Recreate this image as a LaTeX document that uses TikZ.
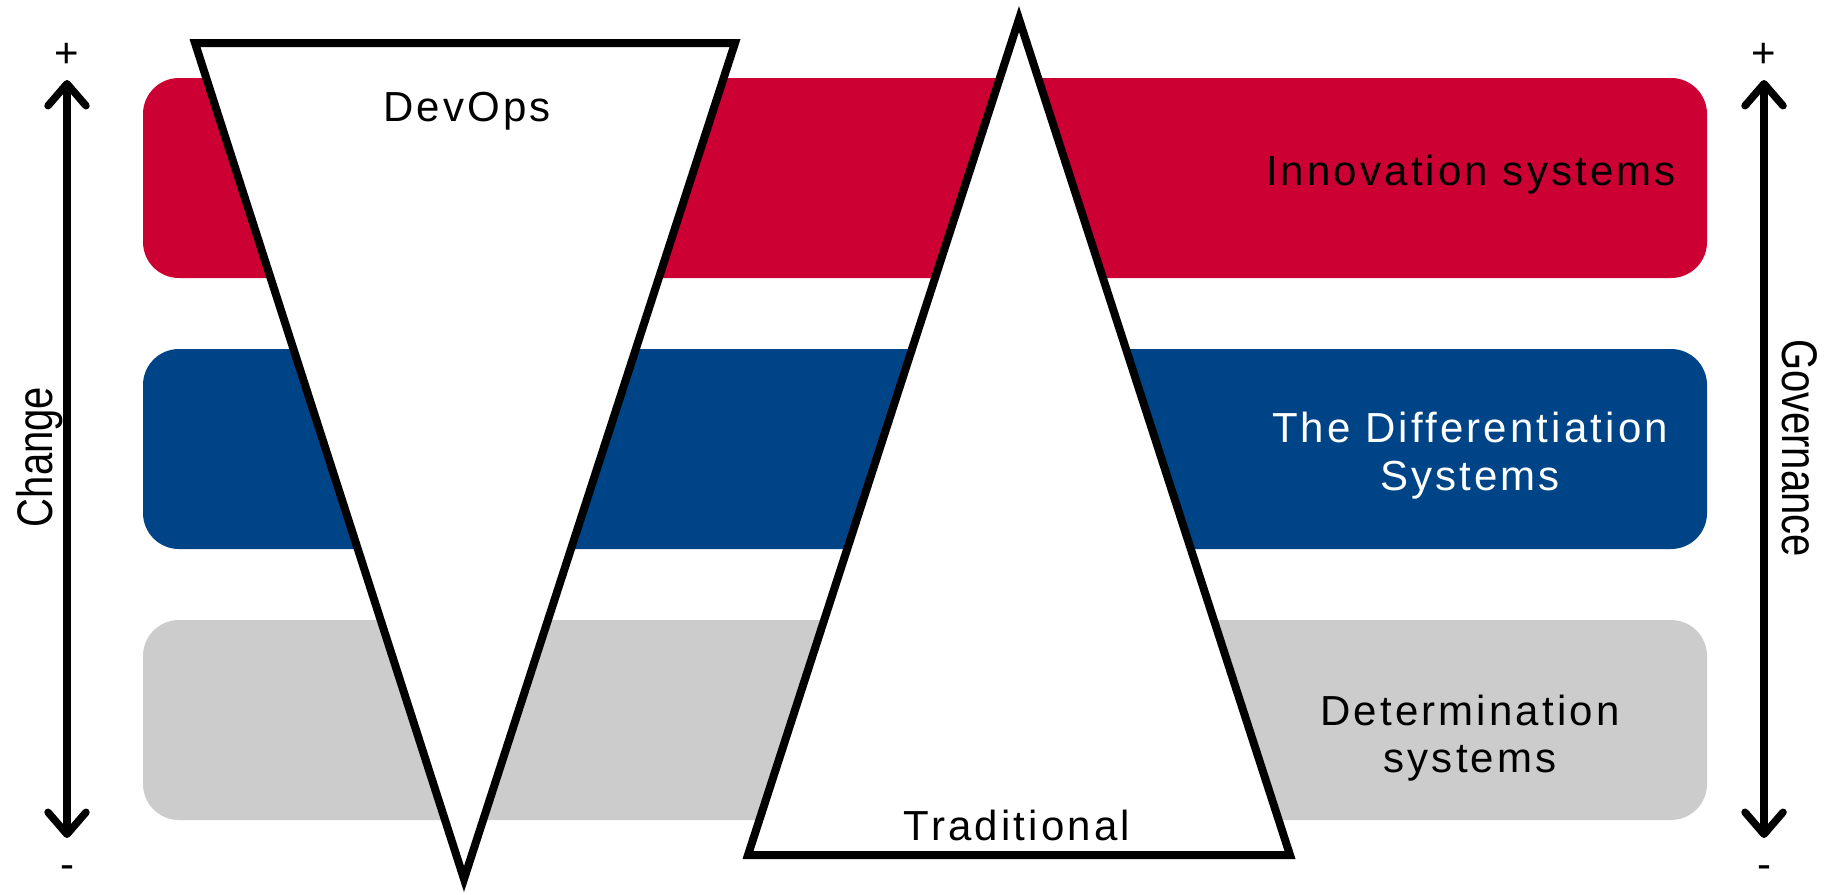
\documentclass[tikz,border=0pt]{standalone}
\usepackage{fontspec}
\setmainfont{Liberation Sans}
\newfontfamily\bandfont[LetterSpace=7.5]{Liberation Sans}
\usetikzlibrary{arrows.meta}
\definecolor{innored}{HTML}{CC0033}
\definecolor{diffblue}{HTML}{004488}
\definecolor{detgray}{HTML}{CCCCCC}
\begin{document}
\begin{tikzpicture}[x=1pt,y=-1pt,
  band/.style={rounded corners=36pt, minimum width=1564pt, minimum height=200pt, inner sep=0pt, draw=none},
  tri/.style={draw=black, line width=8pt, fill=white, line join=miter},
  axis/.style={line width=7.5pt, {Straight Barb[length=22pt,width=38pt,round]}-{Straight Barb[length=22pt,width=38pt,round]}},
  bandtext/.style={font=\bandfont\fontsize{42}{48}\selectfont, anchor=base, inner sep=0pt},
  sidetext/.style={font=\fontsize{50}{56}\selectfont, inner sep=0pt},
  sign/.style={font=\fontsize{42}{48}\selectfont, inner sep=0pt}]
\useasboundingbox (0,0) rectangle (1827,894);
\fill[white] (0,0) rectangle (1827,894);

% bands
\node[band, fill=innored] (red) at (925,178) {};
\node[band, fill=diffblue] (blue) at (925,449) {};
\node[band, fill=detgray] (gray) at (925,720) {};

% triangles
\draw[tri] (195,43) coordinate (d1) -- (735,43) coordinate (d2) -- (464,879) coordinate (d3) -- cycle;
\draw[tri] (1019,19) coordinate (t1) -- (1290,855) coordinate (t2) -- (748,855) coordinate (t3) -- cycle;

% band texts
\node[bandtext, text=black] (inno) at (1471,185) {Innovation systems};
\node[bandtext, text=white] (diffa) at (1470,442) {The Differentiation};
\node[bandtext, text=white] (diffb) at (1470,490) {Systems};
\node[bandtext, text=black] (deta) at (1470,725) {Determination};
\node[bandtext, text=black] (detb) at (1470,772) {systems};
\node[bandtext, text=black] (devops) at (467,121) {DevOps};
\node[bandtext, text=black] (trad) at (1017,840) {Traditional};

% axes
\coordinate (ltop) at (67,80);
\coordinate (lbot) at (67,838);
\coordinate (rtop) at (1764,80);
\coordinate (rbot) at (1764,838);
\draw[axis] (ltop) -- (lbot);
\draw[axis] (rtop) -- (rbot);
\node[sign] (lplus) at (67,55) {+};
\node[sign] (lminus) at (67,872) {-};
\node[sign] (rplus) at (1764,55) {+};
\node[sign] (rminus) at (1764,872) {-};
\node[sidetext, rotate=90] (change) at (40,457) {\scalebox{0.8}[1]{Change}};
\node[sidetext, rotate=-90] (gov) at (1800,448) {\scalebox{0.8}[1]{Governance}};
\end{tikzpicture}
\end{document}
